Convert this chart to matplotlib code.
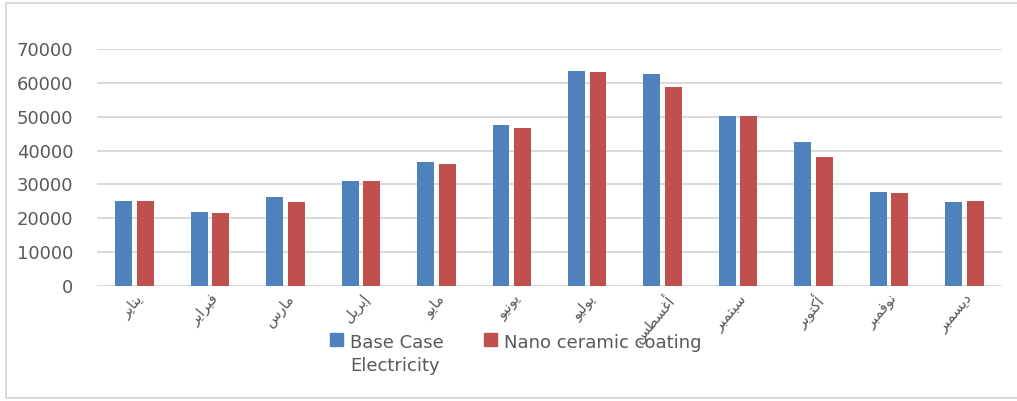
import numpy as np
import matplotlib
matplotlib.use("Agg")
import matplotlib.pyplot as plt
from matplotlib.patches import Rectangle

plt.rcParams['font.family'] = ['DejaVu Sans']

# monthly electricity consumption
months = ["يناير", "فبراير", "مارس", "إبريل", "مايو", "يونيو",
          "يوليو", "أغسطس", "سبتمبر", "أكتوبر", "نوفمبر", "ديسمبر"]
base_case = [25200, 21800, 26300, 31000, 36500, 47700,
             63400, 62700, 50200, 42500, 27900, 24800]
nano_coating = [25200, 21700, 24900, 31000, 36000, 46600,
                63200, 58800, 50200, 38100, 27600, 25200]
series_names = ["Base Case\nElectricity", "Nano ceramic coating"]
colors = ["#4F81BD", "#C0504D"]
yticks = [0, 10000, 20000, 30000, 40000, 50000, 60000, 70000]

# matplotlib has no arabic shaping, so pick presentation forms by hand
# (isolated, final, initial, medial)
FORMS = {
    "ا": ("\uFE8D", "\uFE8E", None, None),
    "أ": ("\uFE83", "\uFE84", None, None),
    "إ": ("\uFE87", "\uFE88", None, None),
    "د": ("\uFEA9", "\uFEAA", None, None),
    "ر": ("\uFEAD", "\uFEAE", None, None),
    "و": ("\uFEED", "\uFEEE", None, None),
    "ب": ("\uFE8F", "\uFE90", "\uFE91", "\uFE92"),
    "ت": ("\uFE95", "\uFE96", "\uFE97", "\uFE98"),
    "س": ("\uFEB1", "\uFEB2", "\uFEB3", "\uFEB4"),
    "ط": ("\uFEC1", "\uFEC2", "\uFEC3", "\uFEC4"),
    "غ": ("\uFECD", "\uFECE", "\uFECF", "\uFED0"),
    "ف": ("\uFED1", "\uFED2", "\uFED3", "\uFED4"),
    "ك": ("\uFED9", "\uFEDA", "\uFEDB", "\uFEDC"),
    "ل": ("\uFEDD", "\uFEDE", "\uFEDF", "\uFEE0"),
    "م": ("\uFEE1", "\uFEE2", "\uFEE3", "\uFEE4"),
    "ن": ("\uFEE5", "\uFEE6", "\uFEE7", "\uFEE8"),
    "ي": ("\uFEF1", "\uFEF2", "\uFEF3", "\uFEF4"),
}


def shape_arabic(word):
    out = []
    for i, ch in enumerate(word):
        f = FORMS[ch]
        prev_joins = i > 0 and FORMS[word[i - 1]][2] is not None
        next_joins = i < len(word) - 1 and f[2] is not None
        if prev_joins and next_joins:
            out.append(f[3])
        elif prev_joins:
            out.append(f[1])
        elif next_joins:
            out.append(f[2])
        else:
            out.append(f[0])
    return "".join(reversed(out))


fig = plt.figure(figsize=(10.17, 4.01), dpi=100)
ax = fig.add_axes([97 / 1017, 1 - 286 / 401, 905 / 1017, 237 / 401])

x = np.arange(len(months))
w = 0.225
ax.bar(x - 0.143, base_case, w, color=colors[0], zorder=3)
ax.bar(x + 0.143, nano_coating, w, color=colors[1], zorder=3)

ax.set_xlim(-0.5, len(months) - 0.5)
ax.set_ylim(0, 70000)
ax.set_yticks(yticks)
ax.set_yticklabels([str(v) for v in yticks], fontsize=13, color="#595959")
ax.tick_params(axis="y", length=0, pad=17)
ax.tick_params(axis="x", length=0, pad=4)
ax.yaxis.grid(True, color="#D9D9D9", linewidth=1.4, zorder=0)
for s in ax.spines.values():
    s.set_visible(False)

ax.set_xticks(x)
ax.set_xticklabels([shape_arabic(m) for m in months], rotation=50,
                   ha="right", rotation_mode="anchor", fontsize=10.5,
                   color="#595959")

# legend drawn below the axis
legend_x = [330, 484]
for lx, name, c in zip(legend_x, series_names, colors):
    fig.patches.append(Rectangle((lx / 1017, 1 - 346 / 401), 13 / 1017, 13 / 401,
                                 transform=fig.transFigure, color=c))
    fig.text((lx + 20) / 1017, 1 - 334 / 401, name, fontsize=13, color="#595959",
             va="top", ha="left", linespacing=1.35)

# chart frame
fig.patches.append(Rectangle((6 / 1017, 3 / 401), 1.0, 395 / 401, fill=False,
                             edgecolor="#D9D9D9", linewidth=1.5,
                             transform=fig.transFigure))

fig.savefig("out.png", dpi=100)
